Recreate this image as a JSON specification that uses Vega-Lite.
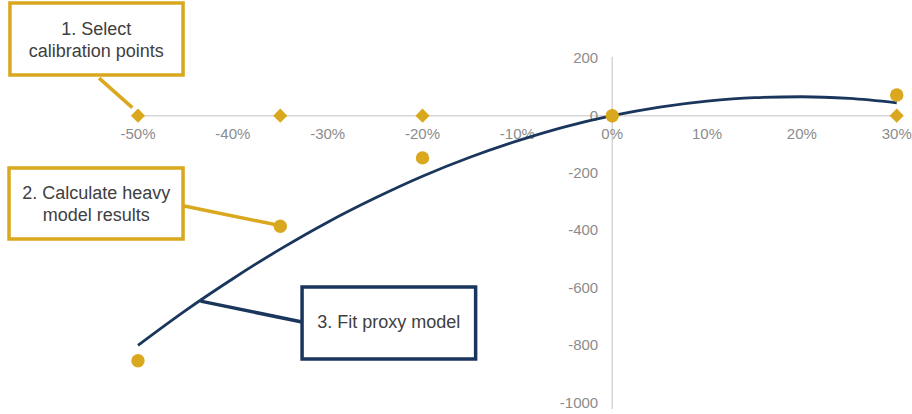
{
  "$schema": "https://vega.github.io/schema/vega-lite/v6.json",
  "width": 912,
  "height": 414,
  "autosize": {"type": "fit", "contains": "padding"},
  "padding": 0,
  "background": "white",
  "config": {"view": {"stroke": null}, "font": "Liberation Sans"},
  "datasets": {
    "xaxis": [{"x": -50, "x2": 30.4, "y": 0}],
    "yaxis": [{"x": 0, "y": 205, "y2": -1022}],
    "yticks": [
      {"v": 200, "label": "200"},
      {"v": 0, "label": "0"},
      {"v": -200, "label": "-200"},
      {"v": -400, "label": "-400"},
      {"v": -600, "label": "-600"},
      {"v": -800, "label": "-800"},
      {"v": -1000, "label": "-1000"}
    ],
    "xticks": [
      {"v": -50, "label": "-50%"},
      {"v": -40, "label": "-40%"},
      {"v": -30, "label": "-30%"},
      {"v": -20, "label": "-20%"},
      {"v": -10, "label": "-10%"},
      {"v": 0, "label": "0%"},
      {"v": 10, "label": "10%"},
      {"v": 20, "label": "20%"},
      {"v": 30, "label": "30%"}
    ],
    "proxy": [
      {"x": -50, "y": -800},
      {"x": -45, "y": -679},
      {"x": -40, "y": -568},
      {"x": -35, "y": -465},
      {"x": -30, "y": -371},
      {"x": -25, "y": -287},
      {"x": -20, "y": -211},
      {"x": -15, "y": -145},
      {"x": -10, "y": -88},
      {"x": -5, "y": -39},
      {"x": 0, "y": 0},
      {"x": 5, "y": 30},
      {"x": 10, "y": 51},
      {"x": 15, "y": 63},
      {"x": 20, "y": 66},
      {"x": 25, "y": 60},
      {"x": 30, "y": 45}
    ],
    "calibration": [
      {"x": -50, "y": 0},
      {"x": -35, "y": 0},
      {"x": -20, "y": 0},
      {"x": 0, "y": 0},
      {"x": 30, "y": 0}
    ],
    "heavy": [
      {"x": -50, "y": -854},
      {"x": -35, "y": -385},
      {"x": -20, "y": -147},
      {"x": 0, "y": 0},
      {"x": 30, "y": 72}
    ],
    "connectors": [
      {"step": "select", "x": -54.1, "y": 131, "x2": -50.6, "y2": 28},
      {"step": "heavy", "x": -45.25, "y": -314, "x2": -35.3, "y2": -381},
      {"step": "fit", "x": -32.7, "y": -719, "x2": -43.4, "y2": -646}
    ],
    "boxes": [
      {"step": "select", "x": -63.5, "x2": -45.25, "y": 392.7, "y2": 141.8, "cx": -54.4, "cy": 298.6, "label": "1. Select\ncalibration points"},
      {"step": "heavy", "x": -63.6, "x2": -45.25, "y": -182, "y2": -429.6, "cx": -54.4, "cy": -272.8, "label": "2. Calculate heavy\nmodel results"},
      {"step": "fit", "x": -32.7, "x2": -14.4, "y": -596.9, "y2": -847.7, "cx": -23.55, "cy": -724, "label": "3. Fit proxy model"}
    ]
  },
  "layer": [
    {
      "data": {"name": "xaxis"},
      "mark": {"type": "rule", "color": "#d6d6d6", "strokeWidth": 1.5},
      "encoding": {
        "x": {"field": "x", "type": "quantitative", "scale": {"domain": [-64.55, 31.61], "nice": false, "zero": false}, "axis": null},
        "x2": {"field": "x2"},
        "y": {"field": "y", "type": "quantitative", "scale": {"domain": [-1039.4, 403.1], "nice": false, "zero": false}, "axis": null}
      }
    },
    {
      "data": {"name": "yaxis"},
      "mark": {"type": "rule", "color": "#d6d6d6", "strokeWidth": 1.5},
      "encoding": {
        "x": {"field": "x", "type": "quantitative"},
        "y": {"field": "y", "type": "quantitative"},
        "y2": {"field": "y2"}
      }
    },
    {
      "data": {"name": "yticks"},
      "mark": {"type": "text", "align": "right", "baseline": "middle", "dx": -14, "fontSize": 15, "color": "#8c8c8c"},
      "encoding": {
        "x": {"datum": 0, "type": "quantitative"},
        "y": {"field": "v", "type": "quantitative"},
        "text": {"field": "label", "type": "nominal"}
      }
    },
    {
      "data": {"name": "xticks"},
      "mark": {"type": "text", "align": "center", "baseline": "middle", "dy": 18, "fontSize": 15, "color": "#8c8c8c"},
      "encoding": {
        "x": {"field": "v", "type": "quantitative"},
        "y": {"datum": 0, "type": "quantitative"},
        "text": {"field": "label", "type": "nominal"}
      }
    },
    {
      "data": {"name": "connectors"},
      "mark": {"type": "rule", "strokeWidth": 3.5},
      "encoding": {
        "x": {"field": "x", "type": "quantitative"},
        "y": {"field": "y", "type": "quantitative"},
        "x2": {"field": "x2"},
        "y2": {"field": "y2"},
        "color": {"field": "step", "type": "nominal", "scale": {"domain": ["select", "heavy", "fit"], "range": ["#d9a81e", "#d9a81e", "#1b365d"]}, "legend": null}
      }
    },
    {
      "data": {"name": "proxy"},
      "mark": {"type": "line", "color": "#1b365d", "strokeWidth": 2.8, "interpolate": "monotone"},
      "encoding": {
        "x": {"field": "x", "type": "quantitative"},
        "y": {"field": "y", "type": "quantitative"}
      }
    },
    {
      "data": {"name": "calibration"},
      "mark": {"type": "point", "shape": "diamond", "filled": true, "size": 200, "color": "#d9a81e", "opacity": 1},
      "encoding": {
        "x": {"field": "x", "type": "quantitative"},
        "y": {"field": "y", "type": "quantitative"}
      }
    },
    {
      "data": {"name": "heavy"},
      "mark": {"type": "circle", "size": 180, "color": "#d9a81e", "opacity": 1},
      "encoding": {
        "x": {"field": "x", "type": "quantitative"},
        "y": {"field": "y", "type": "quantitative"}
      }
    },
    {
      "data": {"name": "boxes"},
      "mark": {"type": "rect", "fill": "white", "strokeWidth": 3.5},
      "encoding": {
        "x": {"field": "x", "type": "quantitative"},
        "x2": {"field": "x2"},
        "y": {"field": "y", "type": "quantitative"},
        "y2": {"field": "y2"},
        "stroke": {"field": "step", "type": "nominal", "scale": {"domain": ["select", "heavy", "fit"], "range": ["#d9a81e", "#d9a81e", "#1b365d"]}, "legend": null}
      }
    },
    {
      "data": {"name": "boxes"},
      "mark": {"type": "text", "align": "center", "baseline": "middle", "fontSize": 18, "lineHeight": 22, "lineBreak": "\n", "color": "#404040"},
      "encoding": {
        "x": {"field": "cx", "type": "quantitative"},
        "y": {"field": "cy", "type": "quantitative"},
        "text": {"field": "label", "type": "nominal"}
      }
    }
  ]
}
